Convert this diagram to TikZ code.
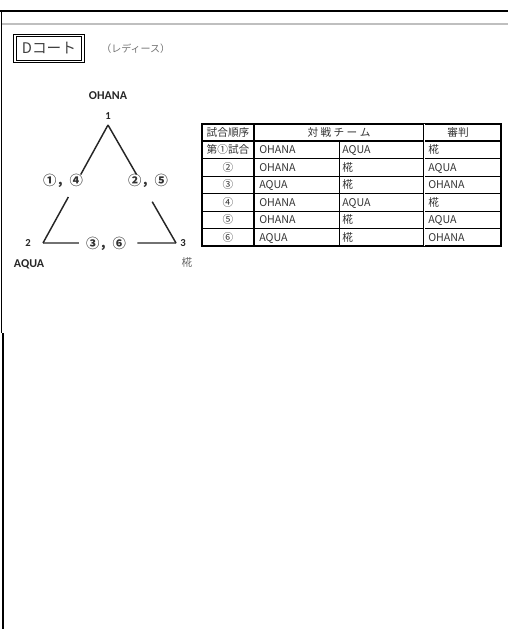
\documentclass[tikz,border=0pt]{standalone}
\usepackage{fontspec}
\setmainfont{Noto Sans CJK JP}
\newfontfamily\calfont{Carlito}
\usetikzlibrary{calc}

\begin{document}
\begin{tikzpicture}[x=0.75pt,y=-0.75pt,
  cell/.style={font=\fontsize{8}{9}\selectfont,text=black!80,inner sep=0pt,text height=5.9pt,text depth=0pt},
  team/.style={font=\calfont\bfseries\fontsize{9}{10}\selectfont,text=black!85,inner sep=0pt},
  vnum/.style={font=\calfont\bfseries\fontsize{8}{9}\selectfont,text=black!85,inner sep=0pt},
  match/.style={font=\bfseries\fontsize{10}{11}\selectfont,text=black!80,inner sep=0pt,text height=7.5pt,text depth=0pt},
  side/.style={line width=1.1pt,black!85},
  thickrule/.style={line width=1.4pt},
  thinrule/.style={line width=0.6pt}]
\useasboundingbox (0,0) rectangle (508,629);

\draw[line width=1.5pt] (0,10.5) -- (508,10.5);
\draw[gray!50,line width=0.8pt] (2,24) -- (508,24);
\draw[line width=1.2pt] (1.5,10) -- (1.5,333);
\draw[line width=1.6pt] (3,333) -- (3,629);

\node[draw,double,line width=0.8pt,double distance=0.8pt,minimum width=51pt,minimum height=19pt,
  font=\fontsize{11}{12}\selectfont,text=black!75,inner sep=0pt] (court) at (49,48.5) {Dコート};
\node[font=\fontsize{7.5}{8}\selectfont,text=black!55,inner sep=0pt,anchor=west] (ladies) at (101,48.5) {（レディース）};

\coordinate (v1) at (108,125);
\coordinate (v2) at (43,243);
\coordinate (v3) at (176,243);
\node[vnum] (n1) at (108,116) {1};
\node[vnum] (n2) at (28,243) {2};
\node[vnum] (n3) at (183,243) {3};
\node[team] (ohana) at (108,96) {OHANA};
\node[team] (aqua) at (29,264) {AQUA};
\node[cell,text=black!60] (momiji) at (187,263) {椛};

\coordinate (a12) at ($(v1)!0.42!(v2)$);
\coordinate (b12) at ($(v1)!0.61!(v2)$);
\coordinate (a13) at ($(v1)!0.42!(v3)$);
\coordinate (b13) at ($(v1)!0.65!(v3)$);
\coordinate (a23) at ($(v2)!0.27!(v3)$);
\coordinate (b23) at ($(v2)!0.71!(v3)$);
\draw[side] (v1) -- (a12);
\draw[side] (b12) -- (v2);
\draw[side] (v1) -- (a13);
\draw[side] (b13) -- (v3);
\draw[side] (v2) -- (a23);
\draw[side] (b23) -- (v3);
\node[match] (m14) at (63,180) {①，④};
\node[match] (m25) at (148,180) {②，⑤};
\node[match] (m36) at (106,243) {③，⑥};

\draw[thinrule] (202,158.5) -- (501,158.5) (202,176) -- (501,176) (202,193.5) -- (501,193.5)
  (202,211) -- (501,211) (202,228.5) -- (501,228.5) (339,141) -- (339,246);
\draw[thickrule] (202,124) rectangle (501,246);
\draw[thickrule] (202,141) -- (501,141);
\draw[thickrule] (254,124) -- (254,246);
\draw[line width=0.7pt,double,double distance=0.6pt] (424,124) -- (424,246);

\node[cell] (h1) at (228,132.5) {試合順序};
\node[cell] (h2) at (339,132.5) {対 戦 チ ー ム};
\node[cell] (h3) at (458,132.5) {審判};

\node[cell] (r1c1) at (228,149.75) {第①試合};
\node[cell,anchor=west] (r1c2) at (259,149.75) {OHANA};
\node[cell,anchor=west] (r1c3) at (342,149.75) {AQUA};
\node[cell,anchor=west] (r1c4) at (428,149.75) {椛};
\node[cell] (r2c1) at (228,167.25) {②};
\node[cell,anchor=west] (r2c2) at (259,167.25) {OHANA};
\node[cell,anchor=west] (r2c3) at (342,167.25) {椛};
\node[cell,anchor=west] (r2c4) at (428,167.25) {AQUA};
\node[cell] (r3c1) at (228,184.75) {③};
\node[cell,anchor=west] (r3c2) at (259,184.75) {AQUA};
\node[cell,anchor=west] (r3c3) at (342,184.75) {椛};
\node[cell,anchor=west] (r3c4) at (428,184.75) {OHANA};
\node[cell] (r4c1) at (228,202.25) {④};
\node[cell,anchor=west] (r4c2) at (259,202.25) {OHANA};
\node[cell,anchor=west] (r4c3) at (342,202.25) {AQUA};
\node[cell,anchor=west] (r4c4) at (428,202.25) {椛};
\node[cell] (r5c1) at (228,219.75) {⑤};
\node[cell,anchor=west] (r5c2) at (259,219.75) {OHANA};
\node[cell,anchor=west] (r5c3) at (342,219.75) {椛};
\node[cell,anchor=west] (r5c4) at (428,219.75) {AQUA};
\node[cell] (r6c1) at (228,237.25) {⑥};
\node[cell,anchor=west] (r6c2) at (259,237.25) {AQUA};
\node[cell,anchor=west] (r6c3) at (342,237.25) {椛};
\node[cell,anchor=west] (r6c4) at (428,237.25) {OHANA};
\end{tikzpicture}
\end{document}
